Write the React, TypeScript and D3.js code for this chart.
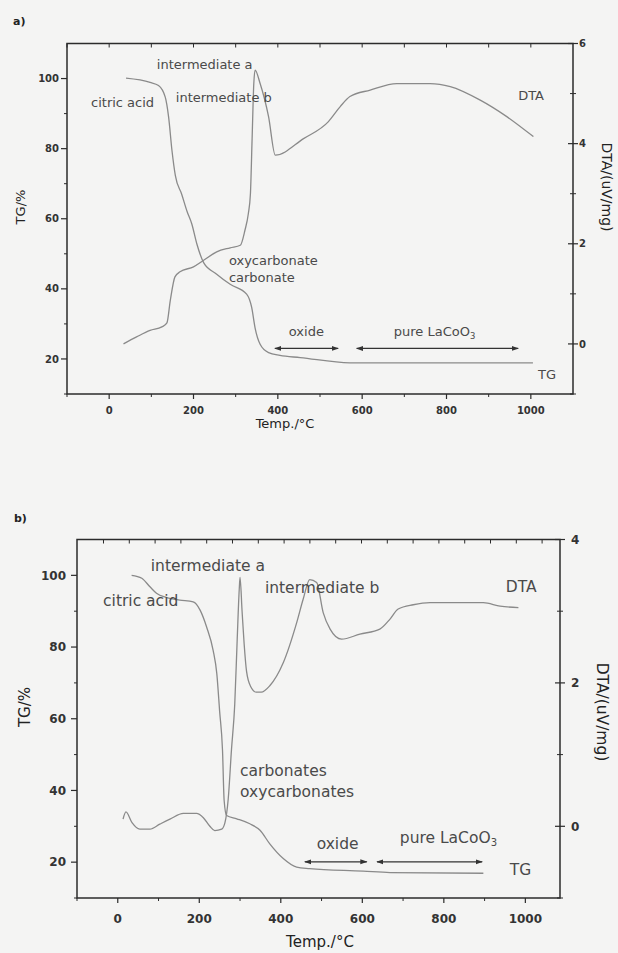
import React from 'react';
import * as d3 from 'd3';

// ---- values (temperature in °C, TG in %, DTA in uV/mg) ----

// panel a
const tgATemp = [40, 97, 117, 133, 141, 149, 157, 172, 185, 196, 208, 224, 255, 287, 326, 338, 346, 358, 378, 405, 453, 571, 1005];
const tgAMass = [100.1, 98.9, 98, 94.7, 89, 79.4, 72.3, 67, 62, 58.5, 52.8, 47.5, 44.2, 41.3, 38.5, 34.7, 28.9, 24.2, 21.8, 21.0, 20.4, 18.9, 18.9];
const dtaATemp = [34, 65, 97, 125, 137, 145, 156, 168, 200, 224, 255, 287, 311, 322, 330, 335, 339, 343, 346, 358, 378, 394, 461, 520, 548, 571, 619, 682, 761, 809, 880, 943, 1006];
const dtaASignal = [0.0, 0.14, 0.27, 0.34, 0.42, 0.87, 1.34, 1.44, 1.54, 1.67, 1.84, 1.92, 1.97, 2.27, 2.6, 3.0, 4.1, 5.2, 5.47, 5.2, 4.54, 3.77, 4.1, 4.44, 4.74, 4.94, 5.07, 5.2, 5.2, 5.14, 4.87, 4.54, 4.14];

// panel b
const tgBTemp = [34, 59, 79, 95, 120, 152, 185, 202, 218, 234, 243, 250, 257, 261, 267, 292, 324, 349, 373, 406, 439, 471, 602, 668, 897];
const tgBMass = [100, 99.2, 96.8, 95, 93.8, 93.1, 92.6, 90.3, 85.6, 79.1, 72.6, 62, 51.2, 37.2, 33, 32.1, 30.7, 28.9, 25.1, 21, 18.6, 18.2, 17.5, 17.1, 16.9];
const dtaBTemp = [13, 20, 35, 54, 79, 103, 128, 161, 193, 210, 226, 238, 255, 263, 271, 279, 287, 293, 298, 300, 305, 310, 316, 326, 340, 352, 373, 406, 439, 455, 471, 488, 504, 521, 549, 594, 643, 668, 688, 725, 766, 897, 938, 983];
const dtaBSignal = [0.1, 0.2, 0.05, -0.04, -0.04, 0.03, 0.1, 0.18, 0.18, 0.12, 0.0, -0.06, -0.04, 0.05, 0.38, 1.07, 1.7, 2.6, 3.3, 3.47, 3.0, 2.55, 2.16, 1.95, 1.87, 1.87, 1.96, 2.28, 2.84, 3.17, 3.44, 3.4, 2.98, 2.75, 2.61, 2.68, 2.75, 2.89, 3.03, 3.09, 3.12, 3.12, 3.07, 3.05];

// axes
const xTicks = [0, 200, 400, 600, 800, 1000];
const xMinor = [-100, 100, 300, 500, 700, 900];
const tgTicks = [20, 40, 60, 80, 100];
const tgMinor = [10, 30, 50, 70, 90];
const dtaTicksA = [0, 2, 4, 6];
const dtaMinorA = [-1, 1, 3, 5];
const dtaTicksB = [0, 2, 4];
const dtaMinorB = [-1, 1, 3];
const topTicksB = d3.range(-35, 1085, 63.3);

// annotations: [text, temp, TG value]
const notesA: [string, number, number][] = [
  ['intermediate a', 113, 102.6],
  ['citric acid', -43, 92.0],
  ['intermediate b', 158, 93.4],
  ['DTA', 970, 93.9],
  ['oxycarbonate', 284, 46.8],
  ['carbonate', 284, 41.9],
  ['oxide', 426, 26.5],
  ['TG', 1017, 14.2],
];
const notesB: [string, number, number][] = [
  ['intermediate a', 81, 101.3],
  ['citric acid', -36, 91.45],
  ['intermediate b', 361, 95.2],
  ['DTA', 952, 95.35],
  ['carbonates', 300, 44.0],
  ['oxycarbonates', 300, 38.3],
  ['oxide', 488, 23.7],
  ['TG', 962, 16.4],
];
// pure LaCoO3 label and double arrows [from, to, TG value]
const pureA: [number, number] = [675, 26.5];
const pureB: [number, number] = [692, 25.4];
const arrowsA: [number, number, number][] = [[393, 543, 23.0], [587, 970, 23.0]];
const arrowsB: [number, number, number][] = [[459, 611, 20.1], [636, 894, 20.1]];

const curveColor = '#8a8a8a';
const axisColor = '#2b2b2b';
const textColor = '#4a4a4a';

type PanelProps = {
  id: string;
  tag: string;
  tagPos: [number, number];
  box: [number, number, number, number]; // left, top, right, bottom
  xDomain: [number, number];
  dtaDomain: [number, number];
  dtaTicks: number[];
  dtaMinor: number[];
  topTicks: number[];
  tg: [number[], number[]];
  dta: [number[], number[]];
  notes: [string, number, number][];
  pure: [number, number];
  arrows: [number, number, number][];
  noteSize: number;
  tickSize: number;
  leftLabelX: number;
  rightLabelX: number;
  bottomLabelY: number;
  yTitle: [number, number, number];
  rTitle: [number, number, number];
  xTitle: [number, number, number];
};

function Panel(p: PanelProps) {
  const [l, t, r, b] = p.box;
  const x = d3.scaleLinear().domain(p.xDomain).range([l, r]);
  const y = d3.scaleLinear().domain([10, 110]).range([b, t]);
  const y2 = d3.scaleLinear().domain(p.dtaDomain).range([b, t]);

  const lineTg = d3.line<[number, number]>()
    .x(d => x(d[0]))
    .y(d => y(d[1]))
    .curve(d3.curveMonotoneX);
  const lineDta = d3.line<[number, number]>()
    .x(d => x(d[0]))
    .y(d => y2(d[1]))
    .curve(d3.curveMonotoneX);

  const tgPts = d3.zip(p.tg[0], p.tg[1]) as [number, number][];
  const dtaPts = d3.zip(p.dta[0], p.dta[1]) as [number, number][];
  const font = 'DejaVu Sans, Verdana, sans-serif';

  return (
    <g>
      <text x={p.tagPos[0]} y={p.tagPos[1]} fontFamily={font} fontSize={11} fontWeight="bold" fill="#222">{p.tag}</text>

      {/* curves */}
      <path d={lineTg(tgPts) || ''} fill="none" stroke={curveColor} strokeWidth={1.3} />
      <path d={lineDta(dtaPts) || ''} fill="none" stroke={curveColor} strokeWidth={1.3} />

      {/* frame */}
      <rect x={l} y={t} width={r - l} height={b - t} fill="none" stroke={axisColor} strokeWidth={1.5} />

      {/* bottom axis */}
      {xTicks.map(v => (
        <g key={'xt' + v}>
          <line x1={x(v)} x2={x(v)} y1={b} y2={b + 5} stroke={axisColor} strokeWidth={1.2} />
          <text x={x(v)} y={p.bottomLabelY} textAnchor="middle" fontFamily={font} fontWeight="bold" fontSize={p.tickSize} fill="#333">{v}</text>
        </g>
      ))}
      {xMinor.map(v => (
        <line key={'xm' + v} x1={x(v)} x2={x(v)} y1={b} y2={b + 3} stroke={axisColor} strokeWidth={1} />
      ))}
      {/* top axis */}
      {p.topTicks.map((v, i) => (
        <line key={'tt' + i} x1={x(v)} x2={x(v)} y1={t} y2={t + 4} stroke={axisColor} strokeWidth={1} />
      ))}

      {/* left axis */}
      {tgTicks.map(v => (
        <g key={'yt' + v}>
          <line x1={l - 6} x2={l} y1={y(v)} y2={y(v)} stroke={axisColor} strokeWidth={1.2} />
          <text x={p.leftLabelX} y={y(v)} dy="0.36em" textAnchor="end" fontFamily={font} fontWeight="bold" fontSize={p.tickSize} fill="#333">{v}</text>
        </g>
      ))}
      {tgMinor.map(v => (
        <line key={'ym' + v} x1={l - 3} x2={l} y1={y(v)} y2={y(v)} stroke={axisColor} strokeWidth={1} />
      ))}

      {/* right axis */}
      {p.dtaTicks.map(v => (
        <g key={'rt' + v}>
          <line x1={r - 5} x2={r + 5} y1={y2(v)} y2={y2(v)} stroke={axisColor} strokeWidth={1.2} />
          <text x={p.rightLabelX} y={y2(v)} dy="0.36em" fontFamily={font} fontWeight="bold" fontSize={p.tickSize} fill="#333">{v}</text>
        </g>
      ))}
      {p.dtaMinor.map(v => (
        <line key={'rm' + v} x1={r - 3} x2={r + 3} y1={y2(v)} y2={y2(v)} stroke={axisColor} strokeWidth={1} />
      ))}

      {/* axis titles */}
      <text transform={`translate(${p.yTitle[0]},${p.yTitle[1]}) rotate(-90)`} textAnchor="middle" dy="0.36em" fontFamily={font} fontSize={p.yTitle[2]} fill="#222">TG/%</text>
      <text transform={`translate(${p.rTitle[0]},${p.rTitle[1]}) rotate(90)`} textAnchor="middle" dy="0.36em" fontFamily={font} fontSize={p.rTitle[2]} fill="#222">DTA/(uV/mg)</text>
      <text x={p.xTitle[0]} y={p.xTitle[1]} textAnchor="middle" fontFamily={font} fontSize={p.xTitle[2]} fill="#222">Temp./°C</text>

      {/* annotations */}
      {p.notes.map(([s, tx, ty]) => (
        <text key={s} x={x(tx)} y={y(ty)} fontFamily={font} fontSize={p.noteSize} fill={textColor}>{s}</text>
      ))}
      <text x={x(p.pure[0])} y={y(p.pure[1])} fontFamily={font} fontSize={p.noteSize} fill={textColor}>
        pure LaCoO<tspan fontSize={p.noteSize * 0.65} dy="0.35em">3</tspan>
      </text>
      {p.arrows.map(([a0, a1, av], i) => (
        <line key={'ar' + i} x1={x(a0)} x2={x(a1)} y1={y(av)} y2={y(av)} stroke="#333" strokeWidth={1.2}
          markerStart={`url(#arr-${p.id})`} markerEnd={`url(#arr-${p.id})`} />
      ))}
      <defs>
        <marker id={`arr-${p.id}`} viewBox="0 0 10 10" refX={9} refY={5} markerWidth={6} markerHeight={6} orient="auto-start-reverse">
          <path d="M0,1.5 L10,5 L0,8.5 z" fill="#333" />
        </marker>
      </defs>
    </g>
  );
}

export default function App() {
  return (
    <svg width={618} height={953} style={{ position: 'absolute', left: 0, top: 0 }}>
      <rect width={618} height={953} fill="#f4f4f3" />
      <Panel
        id="a" tag="a)" tagPos={[13, 25]}
        box={[67, 43.5, 573, 394]}
        xDomain={[-100, 1100]} dtaDomain={[-1, 6]}
        dtaTicks={dtaTicksA} dtaMinor={dtaMinorA}
        topTicks={[...xTicks, ...xMinor]}
        tg={[tgATemp, tgAMass]} dta={[dtaATemp, dtaASignal]}
        notes={notesA} pure={pureA} arrows={arrowsA}
        noteSize={13} tickSize={10}
        leftLabelX={59} rightLabelX={579} bottomLabelY={414}
        yTitle={[20, 207, 13]} rTitle={[607, 187, 14]} xTitle={[285, 428, 13]}
      />
      <Panel
        id="b" tag="b)" tagPos={[14, 522]}
        box={[77, 539.5, 560, 898]}
        xDomain={[-100, 1085]} dtaDomain={[-1, 4]}
        dtaTicks={dtaTicksB} dtaMinor={dtaMinorB}
        topTicks={topTicksB}
        tg={[tgBTemp, tgBMass]} dta={[dtaBTemp, dtaBSignal]}
        notes={notesB} pure={pureB} arrows={arrowsB}
        noteSize={15.5} tickSize={12}
        leftLabelX={66} rightLabelX={571} bottomLabelY={923}
        yTitle={[25, 707, 15]} rTitle={[603, 712, 15.5]} xTitle={[320, 947, 15]}
      />
    </svg>
  );
}
